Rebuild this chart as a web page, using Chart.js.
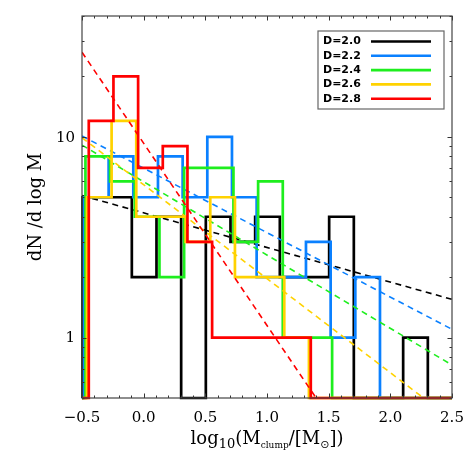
<!DOCTYPE html>
<html>
<head>
<meta charset="utf-8">
<title>Clump mass function</title>
<script src="https://cdn.jsdelivr.net/npm/chart.js@4.4.1/dist/chart.umd.min.js"></script>
<style>
  html, body { margin: 0; padding: 0; background: #fff; }
  #wrap { width: 463px; height: 463px; }
</style>
</head>
<body>
<div id="wrap"><canvas id="canvas"></canvas></div>
<script>
/* Series */
const seriesLabels = ["D=2.0", "D=2.2", "D=2.4", "D=2.6", "D=2.8"];
const seriesColors = ["#000000", "#0a80ff", "#1eee1e", "#ffd200", "#ff0000"];

// left edge of the first bin (log10 M) for each D, bins 0.2 wide
const binStarts = [-0.496, -0.484, -0.472, -0.46, -0.445];
const binWidth = 0.2;

const histD20 = [5, 5, 2, 4, 0, 4, 3, 4, 2, 2, 4, 0, 0, 1];
const histD22 = [5, 8, 5, 8, 5, 10, 5, 2, 2, 3, 1, 2];
const histD24 = [8, 6, 4, 2, 7, 7, 3, 6, 1, 1];
const histD26 = [5, 12, 4, 4, 3, 5, 2, 2, 1];
const histD28 = [12, 20, 7, 9, 3, 1, 1, 1, 1];

/* Power law fits: value at x = -0.5 and at x = 2.5 */
const fitX = [-0.5, 2.5];
const fitD20 = [5.1, 1.55];
const fitD22 = [10.1, 1.1];
const fitD24 = [9.1, 0.73];
const fitD26 = [9.9, 0.39];
const fitD28 = [26.4, 0.05];

/* Axes */
const xTicks = [-0.5, 0.0, 0.5, 1.0, 1.5, 2.0, 2.5];
const yTicks = [1, 10];
const xMin = -0.5;
const xMax = 2.5;
const yMin = 0.5;
const yMax = 40;

const histAll = [histD20, histD22, histD24, histD26, histD28];
const fitAll = [fitD20, fitD22, fitD24, fitD26, fitD28];

/* Build the outline of one histogram (empty bins sit on the bottom axis) */
function histPoints(start, values) {
  let pts = [{ x: xMin, y: yMin }];
  values.forEach((v, i) => {
    pts.push({ x: start + i * binWidth, y: Math.max(v, yMin) });
  });
  pts.push({ x: start + values.length * binWidth, y: yMin });
  pts.push({ x: xMax, y: yMin });
  return pts;
}

let datasets = [];
let order = 10;
for (let k = 0; k < seriesLabels.length; k++) {
  datasets.push({
    label: seriesLabels[k],
    data: histPoints(binStarts[k], histAll[k]),
    borderColor: seriesColors[k],
    borderWidth: 2.7,
    stepped: true,
    pointRadius: 0,
    fill: false,
    borderJoinStyle: "miter",
    borderCapStyle: "butt",
    clip: 3,
    order: order--,
  });
  datasets.push({
    label: seriesLabels[k] + " fit",
    data: fitX.map((x, i) => ({ x: x, y: fitAll[k][i] })),
    borderColor: seriesColors[k],
    borderWidth: 1.6,
    borderDash: [6, 4.5],
    pointRadius: 0,
    fill: false,
    clip: 0,
    order: order--,
  });
}

/* Frame, inward ticks, y labels, legend and axis titles in IDL style */
const idlFrame = {
  id: "idlFrame",
  afterDraw(chart) {
    const ctx = chart.ctx;
    const a = chart.chartArea;
    const xs = chart.scales.x;
    const ys = chart.scales.y;
    ctx.save();

    // ticks
    ctx.strokeStyle = "#333";
    ctx.lineWidth = 1;
    ctx.beginPath();
    for (let i = 0; i <= 30; i++) {
      const px = Math.round(xs.getPixelForValue(xMin + i * 0.1)) + 0.5;
      const len = i % 5 === 0 ? 4.5 : 2.5;
      ctx.moveTo(px, a.bottom);
      ctx.lineTo(px, a.bottom - len);
      ctx.moveTo(px, a.top);
      ctx.lineTo(px, a.top + len);
    }
    [0.1, 1, 10].forEach((dec) => {
      for (let m = 1; m <= 9; m++) {
        const v = m * dec;
        if (v < yMin || v > yMax) continue;
        const py = Math.round(ys.getPixelForValue(v)) + 0.5;
        const len = m === 1 ? 4.5 : 2.5;
        ctx.moveTo(a.left, py);
        ctx.lineTo(a.left + len, py);
        ctx.moveTo(a.right, py);
        ctx.lineTo(a.right - len, py);
      }
    });
    ctx.stroke();

    // frame
    ctx.strokeStyle = "#444";
    ctx.lineWidth = 1.2;
    ctx.strokeRect(a.left, a.top, a.right - a.left, a.bottom - a.top);

    // y tick labels
    ctx.fillStyle = "#000";
    ctx.font = "15px 'DejaVu Serif'";
    ctx.textAlign = "right";
    ctx.textBaseline = "middle";
    yTicks.forEach((v) => {
      ctx.fillText(String(v), a.left - 7, ys.getPixelForValue(v) + 1);
    });

    // legend
    const bx = a.right - 134;
    const by = a.top + 15;
    ctx.strokeStyle = "#666";
    ctx.lineWidth = 1.2;
    ctx.strokeRect(bx, by, 126, 78);
    ctx.font = "bold 11px 'DejaVu Sans'";
    ctx.textAlign = "left";
    ctx.textBaseline = "middle";
    for (let k = 0; k < seriesLabels.length; k++) {
      const ry = by + 10.5 + k * 14.3;
      ctx.fillText(seriesLabels[k], bx + 5, ry);
      ctx.strokeStyle = seriesColors[k];
      ctx.lineWidth = 2.6;
      ctx.beginPath();
      ctx.moveTo(bx + 53, ry);
      ctx.lineTo(bx + 113, ry);
      ctx.stroke();
    }

    // y title
    ctx.save();
    ctx.translate(36, (a.top + a.bottom) / 2);
    ctx.rotate(-Math.PI / 2);
    ctx.font = "18px 'DejaVu Serif'";
    ctx.textAlign = "center";
    ctx.textBaseline = "middle";
    ctx.fillText("dN /d log M", 0, 0);
    ctx.restore();

    // x title with subscripts
    const parts = [
      { t: "log", f: "18px 'DejaVu Serif'", dy: 0 },
      { t: "10", f: "13px 'DejaVu Serif'", dy: 4 },
      { t: "(M", f: "18px 'DejaVu Serif'", dy: 0 },
      { t: "clump", f: "9px 'DejaVu Serif'", dy: 4 },
      { t: "/[M", f: "18px 'DejaVu Serif'", dy: 0 },
      { t: "\u2299", f: "11px 'DejaVu Sans'", dy: 4 },
      { t: "])", f: "18px 'DejaVu Serif'", dy: 0 },
    ];
    let total = 0;
    parts.forEach((p) => {
      ctx.font = p.f;
      p.w = ctx.measureText(p.t).width;
      total += p.w;
    });
    let cx = (a.left + a.right) / 2 - total / 2;
    ctx.textAlign = "left";
    ctx.textBaseline = "alphabetic";
    parts.forEach((p) => {
      ctx.font = p.f;
      ctx.fillText(p.t, cx, 444 + p.dy);
      cx += p.w;
    });

    ctx.restore();
  },
};

const ctx = document.getElementById("canvas").getContext("2d");
window.myChart = new Chart(ctx, {
  type: "line",
  data: { datasets: datasets },
  options: {
    responsive: true,
    maintainAspectRatio: false,
    animation: false,
    layout: { padding: { top: 16, right: 11, left: 0, bottom: 0 } },
    plugins: {
      legend: { display: false },
      tooltip: { enabled: false },
    },
    scales: {
      x: {
        type: "linear",
        min: xMin,
        max: xMax,
        grid: { display: false, drawTicks: false, tickLength: 0 },
        border: { display: false },
        ticks: {
          padding: 11,
          color: "#000",
          maxRotation: 0,
          autoSkip: false,
          font: { family: "DejaVu Serif", size: 15 },
          callback: (v) => (v < 0 ? "\u2212" : "") + Math.abs(v).toFixed(1),
        },
        afterBuildTicks: (s) => {
          s.ticks = xTicks.map((v) => ({ value: v }));
        },
        afterFit: (s) => {
          s.height = 65;
          s.paddingLeft = 0;
          s.paddingRight = 0;
        },
      },
      y: {
        type: "logarithmic",
        min: yMin,
        max: yMax,
        grid: { display: false, drawTicks: false, tickLength: 0 },
        border: { display: false },
        ticks: { display: false },
        afterBuildTicks: (s) => {
          s.ticks = yTicks.map((v) => ({ value: v }));
        },
        afterFit: (s) => {
          s.width = 82;
          s.paddingTop = 0;
          s.paddingBottom = 0;
        },
      },
    },
  },
  plugins: [idlFrame],
});
</script>
</body>
</html>
